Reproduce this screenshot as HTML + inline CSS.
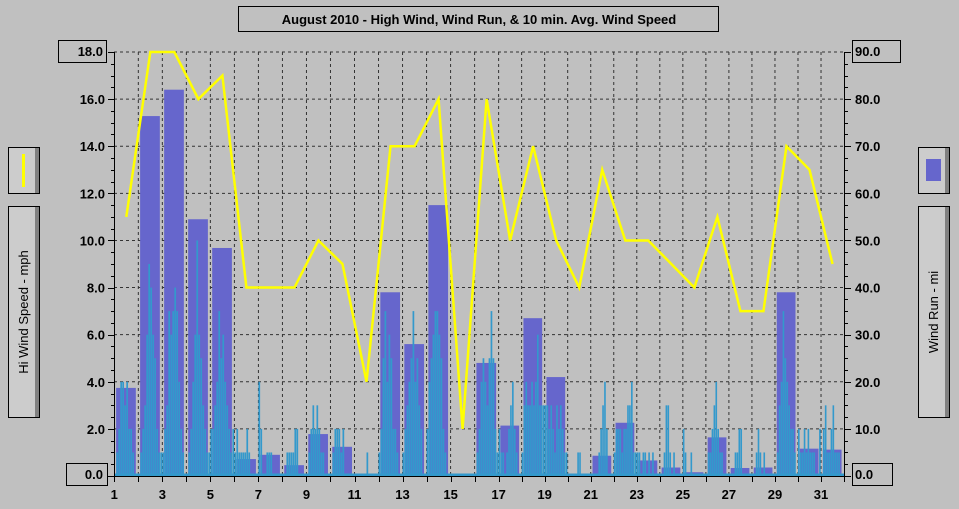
<!DOCTYPE html>
<html><head><meta charset="utf-8"><style>
body{margin:0;background:#c0c0c0;width:959px;height:509px;overflow:hidden;font-family:"Liberation Sans",sans-serif}
svg{display:block}
</style></head><body>
<svg id="chart" width="959" height="509" xmlns="http://www.w3.org/2000/svg" font-family="Liberation Sans, sans-serif">
<rect x="0" y="0" width="959" height="509" fill="#c0c0c0"/>
<g>
<rect x="238.5" y="6.5" width="480" height="25" fill="#c0c0c0" stroke="#000"/>
<text x="479" y="24" text-anchor="middle" font-size="13" font-weight="bold">August 2010 - High Wind, Wind Run, &amp; 10 min. Avg. Wind Speed</text>
</g>
<g id="grid"></g>
<g id="bars"></g>
<g id="cyan"></g>
<g id="line"></g>
<g id="axes"></g>
<g>
<rect x="8.5" y="147.5" width="31" height="46" fill="#cccccc" stroke="#000"/>
<rect x="35" y="148" width="4" height="45" fill="#808080"/>
<rect x="22" y="154" width="3" height="33" fill="#ffff00"/>
<rect x="8.5" y="206.5" width="31" height="211" fill="#cccccc" stroke="#000"/>
<rect x="35" y="207" width="4" height="210" fill="#808080"/>
<text transform="translate(28,312) rotate(-90)" text-anchor="middle" font-size="13">Hi Wind Speed - mph</text>
</g>
<g>
<rect x="918.5" y="147.5" width="31" height="46" fill="#cccccc" stroke="#000"/>
<rect x="945" y="148" width="4" height="45" fill="#808080"/>
<rect x="926" y="159" width="15" height="22" fill="#6666cc"/>
<rect x="918.5" y="206.5" width="31" height="211" fill="#cccccc" stroke="#000"/>
<rect x="945" y="207" width="4" height="210" fill="#808080"/>
<text transform="translate(938,312) rotate(-90)" text-anchor="middle" font-size="13">Wind Run - mi</text>
</g>
</svg>
<script>
const days = Array.from({length:31},(_,i)=>i+1);
const hiWind = [11,18,18,16,17,8,8,8,10,9,4,14,14,16,2,16,10,14,10,8,13,10,10,9,8,11,7,7,14,13,9];
const windRun = [18.7,76.4,82,54.5,48.4,3.6,4.5,2.3,8.9,6.2,0.3,39,28,57.5,0.3,24,10.7,33.5,21,0.5,4.3,11.3,3.3,1.8,0.8,8.2,1.7,1.8,39,5.8,5.6];
const avgWind = [
[0,1,2,4,4,3,4,2,2,1,0,0],
[0,1,2,3,6,9,8,6,5,2,1,1],
[1,2,3,7,6,7,8,7,4,2,1,0],
[0,1,2,4,6,10,6,5,3,2,1,1],
[2,2,3,4,7,5,6,4,3,2,1,2],
[1,2,1,1,1,1,2,1,0,0,0,0],
[4,2,0,0,1,1,1,0,0,0,0,0],
[0,0,1,1,1,1,2,2,0,0,0,0],
[0,1,2,3,2,3,2,1,1,0,0,0],
[0,1,2,2,2,1,2,0,0,0,0,0],
[0,0,0,0,0,0,1,0,0,0,0,0],
[1,2,5,7,4,6,5,2,2,1,0,0],
[1,2,3,4,5,7,4,5,3,2,0,0],
[2,4,5,6,7,7,6,5,2,1,0,0],
[0,0,0,0,0,0,0,0,0,0,0,0],
[0,1,2,4,5,4,3,5,7,5,2,1],
[2,1,1,0,1,2,3,4,2,1,0,0],
[1,3,4,3,3,4,3,4,6,3,3,3],
[3,3,2,3,2,1,3,2,3,2,1,1],
[0,0,0,0,0,1,1,0,0,0,0,0],
[0,0,0,0,1,2,3,4,2,0,0,0],
[1,2,2,2,1,2,2,3,3,4,1,1],
[1,1,0,1,1,0,1,0,1,0,0,0],
[0,0,1,3,3,1,0,1,0,0,0,0],
[2,1,0,0,1,0,0,0,0,0,0,0],
[0,1,1,2,3,4,2,1,1,0,0,0],
[0,0,0,1,1,2,2,0,0,0,0,0],
[0,0,1,2,1,0,1,0,0,0,0,0],
[0,1,3,4,7,5,4,3,2,2,1,0],
[2,1,1,2,1,2,1,1,1,0,0,2],
[0,2,3,1,1,2,3,1,1,1,0,0]];
const leftTicks = ["0.0","2.0","4.0","6.0","8.0","10.0","12.0","14.0","16.0","18.0"];
const rightTicks = ["0.0","10.0","20.0","30.0","40.0","50.0","60.0","70.0","80.0","90.0"];
const dayLabels = [1,3,5,7,9,11,13,15,17,19,21,23,25,27,29,31];

const NS="http://www.w3.org/2000/svg";
const Y0=476, YT=52, LMAX=18, RMAX=90;
function x(d){ // day position (1..32)
  if(d<=17) return 114.3+(d-1)*24.02;
  return 498.6+(d-17)*23.03;
}
function yL(v){return Y0-(v/LMAX)*(Y0-YT);}
function yR(v){return Y0-(v/RMAX)*(Y0-YT);}
function mk(tag,attrs,parent){const e=document.createElementNS(NS,tag);for(const k in attrs)e.setAttribute(k,attrs[k]);parent.appendChild(e);return e;}
const grid=document.getElementById('grid'),bars=document.getElementById('bars'),cyan=document.getElementById('cyan'),line=document.getElementById('line'),axes=document.getElementById('axes');

// grid
for(let d=2;d<=31;d++){const g=mk('line',{x1:x(d),x2:x(d),y1:YT,y2:Y0,stroke:'#333','stroke-dasharray':'3,3','stroke-width':1},grid);

}
for(let i=1;i<=9;i++){const g=mk('line',{x1:114,x2:844,y1:yL(i*2),y2:yL(i*2),stroke:'#333','stroke-dasharray':'3,3','stroke-width':1},grid);

}

// bars
days.forEach((d,i)=>{const x1=x(d)+1.8,x2=x(d+1)-2.5;const r=mk('rect',{x:x1,y:yR(windRun[i]),width:x2-x1,height:Y0-yR(windRun[i]),fill:'#6666cc'},bars);

});

// cyan avg wind
days.forEach((d,i)=>{const vals=avgWind[i];const w=(x(d+1)-x(d))/vals.length;
vals.forEach((v,j)=>{if(v<=0)return;const r=mk('rect',{x:x(d)+j*w,y:yL(v),width:Math.max(w-0.3,1.5),height:Y0-yL(v),fill:'#3399cc'},cyan);

});});
const base=mk('line',{x1:114,x2:844,y1:Y0-1,y2:Y0-1,stroke:'#3399cc','stroke-width':3},cyan);



// yellow line
const pts=days.map((d,i)=>x(d+0.5)+','+yL(hiWind[i])).join(' ');
const pl=mk('polyline',{points:pts,fill:'none',stroke:'#ffff00','stroke-width':2.5,'stroke-linejoin':'miter'},line);



// axes
mk('line',{x1:114.5,x2:114.5,y1:YT,y2:Y0+1,stroke:'#000','stroke-width':1},axes);
mk('line',{x1:844.5,x2:844.5,y1:YT,y2:Y0+1,stroke:'#000','stroke-width':1},axes);
mk('line',{x1:114,x2:845,y1:Y0+0.5,y2:Y0+0.5,stroke:'#000','stroke-width':1},axes);
for(let k=0;k<=36;k++){const yy=Math.round(yL(k*0.5))+0.5;const len=(k%4==0)?6:3;
mk('line',{x1:114-len,x2:114,y1:yy,y2:yy,stroke:'#000'},axes);
mk('line',{x1:845,x2:845+len,y1:yy,y2:yy,stroke:'#000'},axes);}
leftTicks.forEach((t,i)=>{if(i==0||i==9)return;const tx=mk('text',{x:105,y:yL(i*2)+5,'text-anchor':'end','font-size':13,'font-weight':'bold'},axes);tx.textContent=t;

});
rightTicks.forEach((t,i)=>{if(i==0||i==9)return;const tx=mk('text',{x:855,y:yR(i*10)+5,'font-size':13,'font-weight':'bold'},axes);tx.textContent=t;

});
// boxed end labels
[[58,40,48,'18.0',103,'end'],[66,463,41,'0.0',103,'end'],[852,40,48,'90.0',855,'start'],[852,463,40,'0.0',855,'start']].forEach(b=>{
mk('rect',{x:b[0]+0.5,y:b[1]+0.5,width:b[2],height:22,fill:'#c0c0c0',stroke:'#000'},axes);
const tx=mk('text',{x:b[4],y:b[1]+16,'text-anchor':b[5],'font-size':13,'font-weight':'bold'},axes);tx.textContent=b[3];

});
for(let d=1;d<=32;d++){mk('line',{x1:Math.round(x(d))+0.5,x2:Math.round(x(d))+0.5,y1:Y0,y2:Y0+6,stroke:'#000'},axes);}
dayLabels.forEach(d=>{const tx=mk('text',{x:x(d),y:499,'text-anchor':'middle','font-size':13,'font-weight':'bold'},axes);tx.textContent=d;

});
</script>
</body></html>
